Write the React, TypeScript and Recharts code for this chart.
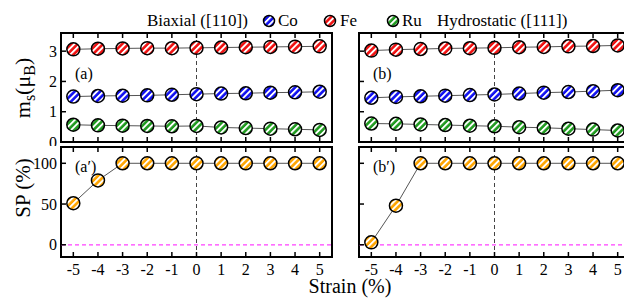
import { Line, LineChart, ReferenceArea, ReferenceLine, XAxis, YAxis } from 'recharts'

const strain = [-5, -4, -3, -2, -1, 0, 1, 2, 3, 4, 5]

// (a) biaxial
const feA = [3.06, 3.08, 3.09, 3.1, 3.1, 3.11, 3.12, 3.13, 3.14, 3.15, 3.16]
const coA = [1.5, 1.52, 1.53, 1.54, 1.56, 1.58, 1.6, 1.61, 1.63, 1.64, 1.66]
const ruA = [0.57, 0.55, 0.54, 0.53, 0.52, 0.53, 0.48, 0.46, 0.44, 0.42, 0.4]
// (b) hydrostatic
const feB = [3.02, 3.05, 3.07, 3.09, 3.1, 3.11, 3.13, 3.14, 3.16, 3.17, 3.19]
const coB = [1.46, 1.49, 1.51, 1.53, 1.55, 1.57, 1.6, 1.63, 1.65, 1.68, 1.71]
const ruB = [0.61, 0.6, 0.58, 0.56, 0.54, 0.52, 0.49, 0.47, 0.44, 0.41, 0.38]
// spin polarisation
const spA = [51, 79, 100, 100, 100, 100, 100, 100, 100, 100, 100]
const spB = [3, 48, 100, 100, 100, 100, 100, 100, 100, 100, 100]

const msTicks = [0, 1, 2, 3]
const spTicks = [0, 50, 100]

const FONT = "'Liberation Serif', 'Times New Roman', 'DejaVu Serif', serif"
const COLORS: Record<string, string> = { fe: '#f01010', co: '#1010f0', ru: '#1f9a1f', sp: '#ffa500' }

const msA = strain.map((s, i) => ({ s, fe: feA[i], co: coA[i], ru: ruA[i] }))
const msB = strain.map((s, i) => ({ s, fe: feB[i], co: coB[i], ru: ruB[i] }))
const spDataA = strain.map((s, i) => ({ s, sp: spA[i] }))
const spDataB = strain.map((s, i) => ({ s, sp: spB[i] }))

const txtStyle = { fontFamily: FONT }

function XTick(props: any) {
  const { x, y, payload, plotH, showLabel } = props
  return (
    <g>
      <line x1={x} x2={x} y1={y} y2={y - 5} stroke="#000" strokeWidth={1.5} />
      <line x1={x} x2={x} y1={y - plotH} y2={y - plotH + 5} stroke="#000" strokeWidth={1.5} />
      {showLabel && (
        <text x={x} y={y + 18} textAnchor="middle" fontSize={16} style={txtStyle} fill="#000">
          {payload.value}
        </text>
      )}
    </g>
  )
}

function YTick(props: any) {
  const { x, y, payload, showLabel } = props
  return (
    <g>
      <line x1={x} x2={x + 5} y1={y} y2={y} stroke="#000" strokeWidth={1.5} />
      {showLabel && (
        <text x={x - 4} y={y + 5.5} textAnchor="end" fontSize={16} style={txtStyle} fill="#000">
          {payload.value}
        </text>
      )}
    </g>
  )
}

type PanelProps = {
  left: number
  top: number
  data: any[]
  keys: string[]
  yDomain: [number, number]
  yTicks: number[]
  plotH: number
  showX: boolean
  showY: boolean
  zeroLine?: boolean
}

function Panel({ left, top, data, keys, yDomain, yTicks, plotH, showX, showY, zeroLine }: PanelProps) {
  const yW = showY ? 61 : 2
  const xH = showX ? 25 : 4
  const plotW = 271
  return (
    <div style={{ position: 'absolute', left, top }}>
      <LineChart
        width={yW + plotW + 2}
        height={5 + plotH + xH}
        data={data}
        margin={{ top: 5, right: 2, left: 0, bottom: 0 }}
      >
        <XAxis
          dataKey="s"
          type="number"
          domain={[-5.5, 5.5]}
          ticks={strain}
          interval={0}
          height={xH}
          tickSize={0}
          tickMargin={0}
          axisLine={false}
          tickLine={false}
          tick={(p: any) => <XTick {...p} plotH={plotH} showLabel={showX} />}
        />
        <YAxis
          type="number"
          domain={yDomain}
          ticks={yTicks}
          interval={0}
          width={yW}
          tickSize={0}
          tickMargin={0}
          axisLine={false}
          tickLine={false}
          tick={(p: any) => <YTick {...p} showLabel={showY} />}
        />
        <ReferenceArea x1={-5.5} x2={5.5} y1={yDomain[0]} y2={yDomain[1]} fill="none" stroke="#000" strokeWidth={2} />
        {zeroLine && <ReferenceLine y={0} stroke="#ff40ff" strokeWidth={1.2} strokeDasharray="4 3" />}
        <ReferenceLine x={0} stroke="#444" strokeWidth={1} strokeDasharray="4 3" />
        {keys.map((k) => (
          <Line
            key={k}
            dataKey={k}
            stroke="#555"
            strokeWidth={1}
            isAnimationActive={false}
            dot={{ r: 6.5, fill: `url(#pat-${k})`, stroke: '#000', strokeWidth: 1.5 }}
          />
        ))}
      </LineChart>
    </div>
  )
}

function Stripes({ id, color }: { id: string; color: string }) {
  return (
    <pattern id={id} patternUnits="userSpaceOnUse" width={4.5} height={4.5} patternTransform="rotate(45)">
      <rect width={4.5} height={4.5} fill={color} />
      <rect width={1.9} height={4.5} fill="#fff" />
    </pattern>
  )
}

export default function App() {
  const txt = { style: txtStyle, fill: '#000' }
  return (
    <div style={{ position: 'absolute', left: 0, top: 0, width: 624, height: 298, overflow: 'hidden', background: '#fff' }}>
      <Panel left={0} top={28} data={msA} keys={['ru', 'co', 'fe']} yDomain={[0, 3.6]} yTicks={msTicks} plotH={109} showX={false} showY />
      <Panel left={357} top={28} data={msB} keys={['ru', 'co', 'fe']} yDomain={[0, 3.6]} yTicks={msTicks} plotH={109} showX={false} showY={false} />
      <Panel left={0} top={142} data={spDataA} keys={['sp']} yDomain={[-15, 120]} yTicks={spTicks} plotH={110} showX showY zeroLine />
      <Panel left={357} top={142} data={spDataB} keys={['sp']} yDomain={[-15, 120]} yTicks={spTicks} plotH={110} showX showY={false} zeroLine />
      <svg width={624} height={298} style={{ position: 'absolute', left: 0, top: 0, pointerEvents: 'none' }}>
        <defs>
          {Object.keys(COLORS).map((k) => (
            <Stripes key={k} id={`pat-${k}`} color={COLORS[k]} />
          ))}
        </defs>
        <text x={147} y={26} fontSize={17} {...txt}>Biaxial ([110])</text>
        <circle cx={269} cy={21} r={5.5} fill="url(#pat-co)" stroke="#000" strokeWidth={1.5} />
        <text x={278} y={26} fontSize={17} {...txt}>Co</text>
        <circle cx={330} cy={21} r={5.5} fill="url(#pat-fe)" stroke="#000" strokeWidth={1.5} />
        <text x={340} y={26} fontSize={17} {...txt}>Fe</text>
        <circle cx={393} cy={21} r={5.5} fill="url(#pat-ru)" stroke="#000" strokeWidth={1.5} />
        <text x={402} y={26} fontSize={17} {...txt}>Ru</text>
        <text x={437} y={26} fontSize={17} {...txt}>Hydrostatic ([111])</text>

        <text x={75} y={79} fontSize={16} {...txt}>(a)</text>
        <text x={373} y={79} fontSize={16} {...txt}>(b)</text>
        <text x={75} y={172} fontSize={16} {...txt}>(a′)</text>
        <text x={373} y={172} fontSize={16} {...txt}>(b′)</text>

        <text transform="translate(30,88) rotate(-90)" textAnchor="middle" fontSize={22} {...txt}>
          m<tspan fontSize={16} dy={5}>s</tspan>
          <tspan dy={-5}>(μ</tspan>
          <tspan fontSize={16} dy={5}>B</tspan>
          <tspan dy={-5}>)</tspan>
        </text>
        <text transform="translate(30,188) rotate(-90)" textAnchor="middle" fontSize={21} {...txt}>SP (%)</text>
        <text x={350} y={293} textAnchor="middle" fontSize={20} {...txt}>Strain (%)</text>
      </svg>
    </div>
  )
}
